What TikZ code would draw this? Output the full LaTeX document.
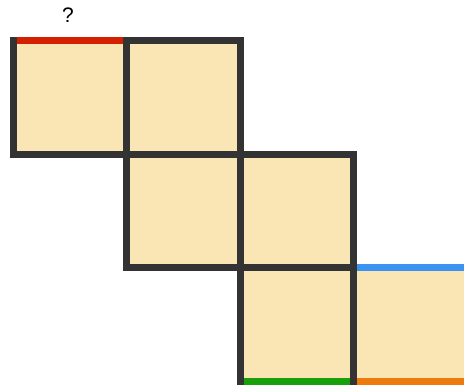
\documentclass[tikz,border=0pt]{standalone}
\usepackage{fontspec}
\setmainfont{Liberation Sans}
\usepackage{xcolor}

\definecolor{cellfill}{HTML}{FAE6B4}
\definecolor{gridline}{HTML}{333333}
\definecolor{edgered}{HTML}{D41F00}
\definecolor{edgeblue}{HTML}{3A93F0}
\definecolor{edgegreen}{HTML}{18A00A}
\definecolor{edgeorange}{HTML}{EE7A0C}

\tikzset{
  cell/.style={fill=cellfill, draw=gridline, line width=7pt},
  mark edge/.style={line width=7pt},
}

\begin{document}
\begin{tikzpicture}[x=1pt, y=-1pt]
    \useasboundingbox (0,0) rectangle (464,386);

    % Cells
    \draw[cell] (13,40.5) rectangle (126.5,154);
    \draw[cell] (126.5,40.5) rectangle (240,154);
    \draw[cell] (126.5,154) rectangle (240,267.5);
    \draw[cell] (240,154) rectangle (353.5,267.5);
    \draw[cell] (240,267.5) rectangle (353.5,381);
    \draw[cell] (353.5,267.5) rectangle (467,381);

    % Marked edges
    \draw[mark edge, edgered] (16.5,40.5) -- (123,40.5);
    \draw[mark edge, edgeblue] (357,267.5) -- (467,267.5);
    \draw[mark edge, edgegreen] (243.5,381) -- (350,381);
    \draw[mark edge, edgeorange] (357,381) -- (467,381);

    % Question
    \node (question) at (68,15) {\fontsize{21}{25}\selectfont ?};
\end{tikzpicture}
\end{document}
